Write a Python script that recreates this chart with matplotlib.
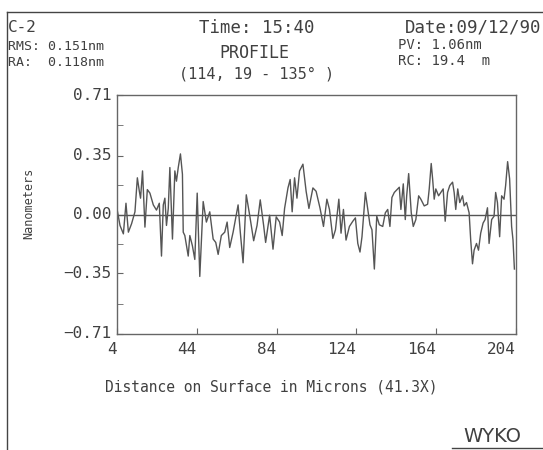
import matplotlib
matplotlib.use("Agg")
import matplotlib.pyplot as plt
from matplotlib.lines import Line2D

# ---- data ----
distance_um = [3.8, 5.5, 7.2, 8.5, 9.7, 11.3, 13.0, 14.2, 15.2, 15.8, 16.8, 18.0, 19.2, 20.5,
               22.2, 23.8, 25.2, 26.3, 27.2, 28.0, 28.8, 29.7, 30.5, 31.8, 33.0, 33.8, 34.7,
               35.8, 36.8, 37.2, 38.0, 39.7, 40.5, 41.8, 43.0, 44.2, 45.5, 47.2, 48.8, 50.5,
               52.2, 53.5, 54.7, 56.3, 58.0, 59.2, 60.5, 62.2, 64.7, 65.8, 67.2, 68.8, 70.5,
               72.5, 74.2, 75.8, 77.5, 78.5, 80.5, 82.2, 83.8, 85.5, 86.8, 88.0, 89.7, 90.8,
               91.8, 93.0, 94.2, 95.5, 97.2, 98.8, 100.2, 102.2, 103.8, 105.8,
               107.5, 109.2, 110.5, 112.2, 113.5, 115.2, 116.3, 117.5, 118.8, 120.5, 122.2,
               123.5, 124.7, 125.8, 126.8, 128.5, 129.7, 130.8, 131.8, 133.0, 134.2, 135.5,
               137.2, 138.5, 139.7, 140.8, 141.8, 143.0, 144.7, 145.5, 146.3, 147.5, 148.5,
               149.2, 150.2, 150.8, 151.5, 152.5, 153.8, 155.2, 156.3, 158.0, 159.7, 160.5,
               161.5, 162.2, 163.0, 163.8, 165.2, 166.3, 167.5, 168.5, 169.7, 170.8, 172.2,
               173.0, 173.8, 174.8, 175.8, 177.2, 178.0, 179.2, 180.5, 181.3, 182.2, 183.0,
               184.2, 185.2, 186.3, 187.5, 188.5, 189.7, 190.5, 191.8, 193.0, 193.8, 194.7,
               195.8, 196.8, 198.0, 198.8, 199.8, 200.8, 201.8, 202.5, 203.2]
height_nm = [0.047, -0.065, -0.115, 0.067, -0.105, -0.055, 0.016, 0.218, 0.138, 0.097, 0.259,
             -0.075, 0.148, 0.127, 0.057, 0.026, 0.067, -0.247, 0.057, 0.097, -0.065, 0.036,
             0.279, -0.146, 0.259, 0.198, 0.279, 0.360, 0.239, -0.105, -0.125, -0.247, -0.125,
             -0.186, -0.267, 0.127, -0.368, 0.077, -0.045, 0.016, -0.146, -0.166, -0.237,
             -0.125, -0.105, -0.045, -0.196, -0.105, 0.057, -0.105, -0.287, 0.117, -0.004,
             -0.156, -0.065, 0.087, -0.065, -0.166, -0.004, -0.206, -0.014, -0.045, -0.125,
             0.036, 0.158, 0.208, 0.016, 0.218, 0.097, 0.259, 0.299, 0.138, 0.036, 0.158,
             0.138, 0.036,
             -0.071, 0.091, 0.030, -0.142, -0.091, 0.091, -0.111, 0.030, -0.152, -0.071,
             -0.040, -0.020, -0.172, -0.223, -0.132, 0.131, 0.030, -0.061, -0.091, -0.324,
             -0.010, -0.061, -0.071, 0.010, 0.030, -0.071, 0.101, 0.131, 0.152, 0.162, 0.030,
             0.182, -0.030, 0.111, 0.243, 0.131, 0.010, -0.071, -0.030, 0.111, 0.091, 0.051,
             0.061, 0.152, 0.303, 0.212, 0.091, 0.152, 0.111, 0.131, 0.152, -0.040, 0.131,
             0.172, 0.192, 0.131, 0.030, 0.152, 0.071, 0.111, 0.051, 0.071, 0.010, -0.152,
             -0.293, -0.212, -0.172, -0.212, -0.111, -0.051, -0.030, 0.040, -0.172, -0.030,
             -0.010, 0.131, 0.071, -0.132, 0.111, 0.091, 0.172, 0.314, 0.212, -0.071, -0.152,
             -0.324]
x_ticks = [4, 44, 84, 124, 164, 204]
x_tick_labels = ["4", "44", "84", "124", "164", "204"]
y_ticks = [-0.71, -0.35, 0.00, 0.35, 0.71]
y_tick_labels = ["−0.71", "−0.35", "0.00", "0.35", "0.71"]
y_minor_ticks = [-0.53, -0.175, 0.175, 0.53]

INK = "#404040"
TRACE = "#555555"
MONO = "DejaVu Sans Mono"

W, H = 543, 450
fig = plt.figure(figsize=(W / 100, H / 100), dpi=100)
fig.patch.set_facecolor("white")

def fx(px):
    return px / W

def fy(py):
    return 1 - py / H

ax = fig.add_axes([fx(117), fy(334), fx(516) - fx(117), fy(95) - fy(334)])
ax.plot(distance_um, height_nm, color=TRACE, lw=1.0)
ax.axhline(0, color=TRACE, lw=1.0)
ax.set_xlim(4, 204)
ax.set_ylim(-0.71, 0.71)
for s in ax.spines.values():
    s.set_color("#666666")
    s.set_linewidth(1.0)

ax.set_xticks(x_ticks)
ax.set_xticklabels([])
ax.set_yticks(y_ticks)
ax.set_yticklabels([])
ax.set_yticks(y_minor_ticks, minor=True)
ax.tick_params(axis="both", which="both", direction="in", length=4, color="#666666")

# tick labels (right-aligned at the tick, as in the reference)
for v, lab in zip(x_ticks, x_tick_labels):
    ax.annotate(lab, xy=(v, -0.71), xycoords="data", xytext=(0, -15),
                textcoords="offset pixels", ha="right", va="center",
                fontsize=11.5, family=MONO, color=INK)
for v, lab in zip(y_ticks, y_tick_labels):
    ax.annotate(lab, xy=(4, v), xycoords="data", xytext=(-6, 0),
                textcoords="offset pixels", ha="right", va="center",
                fontsize=11.5, family=MONO, color=INK)

fig.text(fx(271), fy(387), "Distance on Surface in Microns (41.3X)", ha="center",
         va="center", fontsize=10.5, family=MONO, color=INK)
fig.text(fx(29), fy(203), "Nanometers", rotation=90, ha="center", va="center",
         fontsize=8.5, family=MONO, color=INK)

# header texts
fig.text(fx(8), fy(28), "C-2", ha="left", va="center", fontsize=11.5, family=MONO, color=INK)
fig.text(fx(257), fy(28), "Time: 15:40", ha="center", va="center", fontsize=12.5,
         family=MONO, color=INK)
fig.text(fx(541), fy(28), "Date:09/12/90", ha="right", va="center", fontsize=12.5,
         family=MONO, color=INK)
fig.text(fx(8), fy(46), "RMS: 0.151nm", ha="left", va="center", fontsize=9.5,
         family=MONO, color=INK)
fig.text(fx(8), fy(62), "RA:  0.118nm", ha="left", va="center", fontsize=9.5,
         family=MONO, color=INK)
fig.text(fx(254), fy(53), "PROFILE", ha="center", va="center", fontsize=12,
         family=MONO, color=INK)
fig.text(fx(257), fy(74), "(114, 19 - 135° )", ha="center", va="center", fontsize=11,
         family=MONO, color=INK)
fig.text(fx(398), fy(45), "PV: 1.06nm", ha="left", va="center", fontsize=10,
         family=MONO, color=INK)
fig.text(fx(398), fy(61), "RC: 19.4  m", ha="left", va="center", fontsize=10,
         family=MONO, color=INK)
fig.text(fx(521), fy(437), "WYKO", ha="right", va="center", fontsize=14,
         family="DejaVu Sans", color=INK)

# outer frame lines of the printout
fig.add_artist(Line2D([fx(7), fx(7)], [fy(12), fy(450)], color="#444444", lw=1.0))
fig.add_artist(Line2D([fx(7), fx(543)], [fy(12), fy(12)], color="#444444", lw=1.0))
fig.add_artist(Line2D([fx(452), fx(543)], [fy(448), fy(448)], color="#444444", lw=1.0))

fig.savefig("out.png", dpi=100, facecolor="white")
